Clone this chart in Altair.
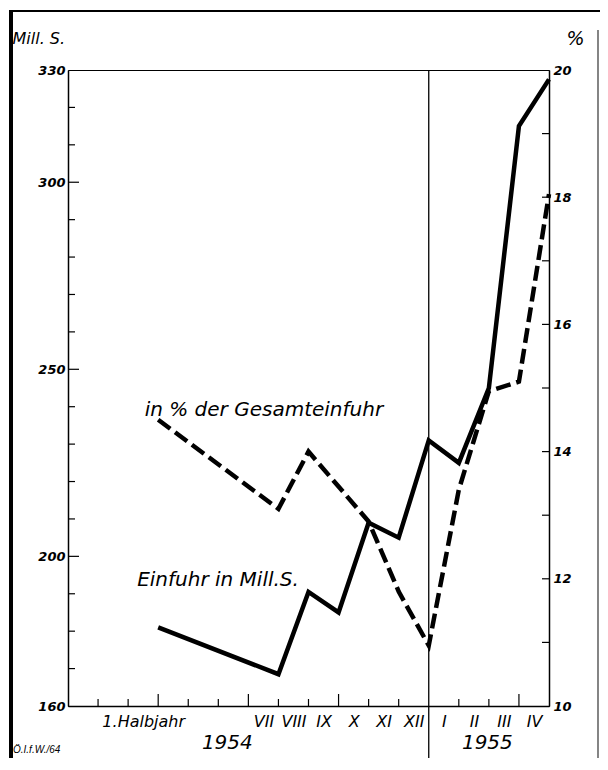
import altair as alt
import pandas as pd

# ---------------- data ----------------
periods = ["1.Halbjahr", "VII", "VIII", "IX", "X", "XI", "XII", "I", "II", "III", "IV"]
import_mill = [181, 168.5, 190.5, 185, 209, 205, 231, 225, 245, 315, 327.5]     # Einfuhr in Mill. S.
share_pct = [14.5, 13.1, 14.0, 13.45, 12.9, 11.8, 10.95, 13.4, 14.95, 15.1, 18.05]  # in % der Gesamteinfuhr
left_ticks = [160, 200, 250, 300, 330]
right_ticks = [10, 12, 14, 16, 18, 20]
years = ["1954", "1955"]
series_names = ["in % der Gesamteinfuhr", "Einfuhr in Mill.S."]
source_note = "Ö.I.f.W./64"

# ---------------- layout helpers ----------------
W, H = 481, 636
FONT = "DejaVu Sans"
N_SLOTS = 16
slots = [3] + list(range(7, 17))          # half-year slot, then one slot per month
divider_slot = slots[periods.index("XII")]

df = pd.DataFrame({"period": periods, "slot": slots, "mill": import_mill, "pct": share_pct})
one = pd.DataFrame({"a": [0]})

xs = alt.Scale(domain=[0, N_SLOTS], nice=False, zero=False)
yl = alt.Scale(domain=[160, 330], nice=False, zero=False)
yr = alt.Scale(domain=[10, 20], nice=False, zero=False)

lab = [""] * (N_SLOTS + 1)
for s, p in zip(slots, periods):
    lab[s] = p
label_expr = "[" + ",".join("'%s'" % l for l in lab) + "][datum.value]"

x_axis = alt.Axis(values=slots, labelExpr=label_expr, ticks=False, grid=False, title=None,
                  domainColor="black", domainWidth=1.5, labelOffset=-15, labelPadding=7,
                  labelFont=FONT, labelFontSize=16, labelFontStyle="italic", labelColor="black",
                  labelFlush=False, labelOverlap=False, labelAlign="center")


def X(field):
    return alt.X(field, scale=xs, axis=x_axis)


left_axis = alt.Axis(orient="left", values=left_ticks, ticks=False, grid=False,
                     domainColor="black", domainWidth=1.5, labelPadding=3,
                     labelFont=FONT, labelFontSize=13, labelFontStyle="italic", labelFontWeight="bold",
                     labelColor="black", labelFlush=False,
                     title="Mill. S.", titleAngle=0, titleX=-56, titleY=-32, titleAlign="left",
                     titleBaseline="middle", titleFont=FONT, titleFontSize=16, titleFontStyle="italic",
                     titleFontWeight="normal", titleColor="black")

right_axis = alt.Axis(orient="right", values=right_ticks, ticks=False, grid=False,
                      domainColor="black", domainWidth=1.5, labelPadding=4,
                      labelFont=FONT, labelFontSize=13, labelFontStyle="italic", labelFontWeight="bold",
                      labelColor="black", labelFlush=False,
                      title="%", titleAngle=0, titleX=17, titleY=-32, titleAlign="left",
                      titleBaseline="middle", titleFont=FONT, titleFontSize=19, titleFontStyle="italic",
                      titleFontWeight="normal", titleColor="black")

base = alt.Chart(df)

solid = base.mark_line(color="black", strokeWidth=4.5).encode(
    x=X("slot:Q"),
    y=alt.Y("mill:Q", scale=yl, axis=left_axis),
    order="slot:Q",
)

dashed = base.mark_line(color="black", strokeWidth=4.5, strokeDash=[15, 6]).encode(
    x=X("slot:Q"),
    y=alt.Y("pct:Q", scale=yr, axis=right_axis),
    order="slot:Q",
)

# inner tick marks
lt_major = pd.DataFrame({"v": [v for v in left_ticks if v not in (160, 330)]})
lt_minor = pd.DataFrame({"v": [v for v in range(170, 330, 10) if v not in left_ticks]})
ticks_left_major = alt.Chart(lt_major).mark_rule(color="black", strokeWidth=1.2).encode(
    x=alt.value(0), x2=alt.value(11), y=alt.Y("v:Q", scale=yl, axis=None))
ticks_left_minor = alt.Chart(lt_minor).mark_rule(color="black", strokeWidth=1.2).encode(
    x=alt.value(0), x2=alt.value(7), y=alt.Y("v:Q", scale=yl, axis=None))

rt = pd.DataFrame({"v": list(range(11, 20))})
ticks_right = alt.Chart(rt).mark_rule(color="black", strokeWidth=1.2).encode(
    x=alt.value(W - 7), x2=alt.value(W), y=alt.Y("v:Q", scale=yr, axis=None))

bt_tall = [3, 6, 9, 15]
bt = pd.DataFrame({"k": [k for k in range(1, N_SLOTS) if k != divider_slot and k not in bt_tall]})
btt = pd.DataFrame({"k": bt_tall})
ticks_bottom = alt.Chart(bt).mark_rule(color="black", strokeWidth=1.2).encode(
    x=X("k:Q"), y=alt.value(H), y2=alt.value(H - 7))
ticks_bottom_tall = alt.Chart(btt).mark_rule(color="black", strokeWidth=1.2).encode(
    x=X("k:Q"), y=alt.value(H), y2=alt.value(H - 12))

# year divider (end of 1954)
divider = alt.Chart(pd.DataFrame({"k": [divider_slot]})).mark_rule(color="black", strokeWidth=1.3).encode(
    x=X("k:Q"), y=alt.value(0), y2=alt.value(H + 56))

# series annotations
ann = pd.DataFrame({"t": series_names, "x": [2.55, 2.3], "y": [239.0, 193.7]})
annotations = alt.Chart(ann).mark_text(
    font=FONT, fontSize=20, fontStyle="italic", align="left", baseline="middle", color="black"
).encode(x=X("x:Q"), y=alt.Y("y:Q", scale=yl, axis=None), text="t:N")

# year labels
yrs = pd.DataFrame({"t": years, "x": [5.3, 13.95]})
year_labels = alt.Chart(yrs).mark_text(
    font=FONT, fontSize=20, fontStyle="italic", align="center", baseline="middle", color="black"
).encode(x=X("x:Q"), y=alt.value(H + 37), text="t:N")

note = alt.Chart(one).mark_text(
    font="Liberation Sans", fontSize=10, fontStyle="italic", align="left", baseline="middle",
    color="black", text=source_note
).encode(x=alt.value(-55), y=alt.value(H + 44))

# scanned page frame
frame_left = alt.Chart(one).mark_rule(color="black", strokeWidth=4).encode(
    x=alt.value(-57), y=alt.value(-60), y2=alt.value(H + 56))
frame_top = alt.Chart(one).mark_rule(color="black", strokeWidth=2).encode(
    x=alt.value(-59), x2=alt.value(W + 51), y=alt.value(-59))
frame_right = alt.Chart(one).mark_rule(color="#333333", strokeWidth=1.2).encode(
    x=alt.value(W + 49), y=alt.value(-40), y2=alt.value(H + 56))

chart = alt.layer(
    frame_left, frame_top, frame_right,
    ticks_left_major, ticks_left_minor, ticks_right, ticks_bottom, ticks_bottom_tall,
    divider, solid, dashed, annotations, year_labels, note,
).resolve_scale(y="independent").properties(
    width=W, height=H,
    autosize=alt.AutoSizeParams(type="none"),
    padding={"left": 60, "top": 62, "right": 51, "bottom": 52},
    background="white",
).configure_view(stroke="black", strokeWidth=1)

chart.save("out.html", embed_options={"renderer": "svg", "actions": False})
